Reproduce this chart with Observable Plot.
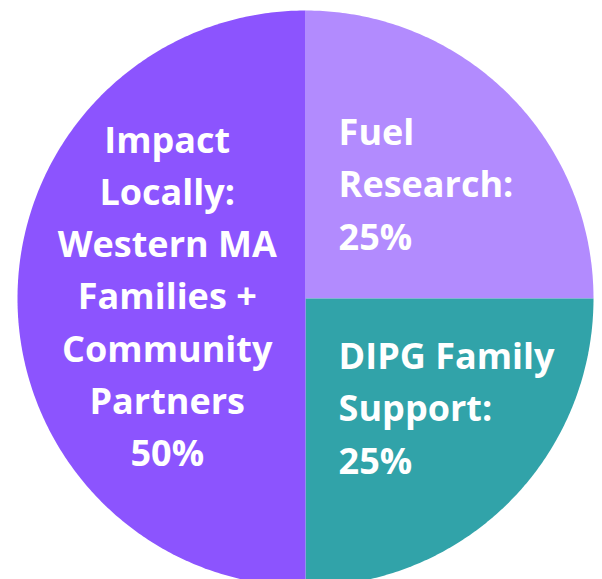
<!DOCTYPE html>
<html>
<head>
<meta charset="utf-8">
<script src="https://cdn.jsdelivr.net/npm/d3@7"></script>
<script src="https://cdn.jsdelivr.net/npm/@observablehq/plot@0.6"></script>
<style>
  html, body { margin: 0; padding: 0; background: #ffffff; overflow: hidden; }
  #chart svg { display: block; }
</style>
</head>
<body>
<div id="chart"></div>
<script>
// ---- data ----
const categories = ["Fuel Research", "DIPG Family Support", "Impact Locally"];
const values = [25, 25, 50];
const labels = [
  "Fuel\nResearch:\n25%",
  "DIPG Family\nSupport:\n25%",
  "Impact\nLocally:\nWestern MA\nFamilies +\nCommunity\nPartners\n50%"
];
const sliceColors = ["#b28bfe", "#31a3a9", "#8c54fe"];

// ---- build slice polygons from pie layout ----
const arcs = d3.pie().sort(null).value(d => d.value)(
  categories.map((c, i) => ({category: c, value: values[i], label: labels[i]}))
);
const points = [];
for (const a of arcs) {
  const n = Math.max(2, Math.ceil((a.endAngle - a.startAngle) / 0.01));
  points.push({category: a.data.category, x: 0, y: 0});
  for (let k = 0; k <= n; k++) {
    const t = a.startAngle + (a.endAngle - a.startAngle) * k / n;
    points.push({category: a.data.category, x: Math.sin(t), y: Math.cos(t)});
  }
  points.push({category: a.data.category, x: 0, y: 0});
}
// label anchors derived from slice mid-angles
const labelData = arcs.map(a => {
  const mid = (a.startAngle + a.endAngle) / 2;
  const right = Math.sin(mid) > 0;
  return {
    text: a.data.label,
    right,
    x: right ? 0.115 : Math.sin(mid) * 0.48,
    y: Math.cos(mid) * 0.55 + 0.02
  };
});

const font = "'Open Sans', 'DejaVu Sans', sans-serif";
const fs = 36;
const chart = Plot.plot({
  width: 602,
  height: 579,
  margin: 0,
  x: {domain: [-1, 1], range: [17, 593], axis: null},
  y: {domain: [-1, 1], range: [586, 10], axis: null},
  color: {domain: categories, range: sliceColors},
  style: {background: "#ffffff", overflow: "hidden"},
  marks: [
    Plot.line(points, {x: "x", y: "y", z: "category", fill: "category", stroke: "none"}),
    Plot.text(labelData.filter(d => !d.right), {
      x: "x", y: "y", text: "text", fill: "white", fontSize: fs, fontWeight: 700,
      fontFamily: font, lineHeight: 1.45, textAnchor: "middle", lineAnchor: "middle"
    }),
    Plot.text(labelData.filter(d => d.right), {
      x: "x", y: "y", text: "text", fill: "white", fontSize: fs, fontWeight: 700,
      fontFamily: font, lineHeight: 1.45, textAnchor: "start", lineAnchor: "middle"
    })
  ]
});
document.getElementById("chart").appendChild(chart);
</script>
</body>
</html>
